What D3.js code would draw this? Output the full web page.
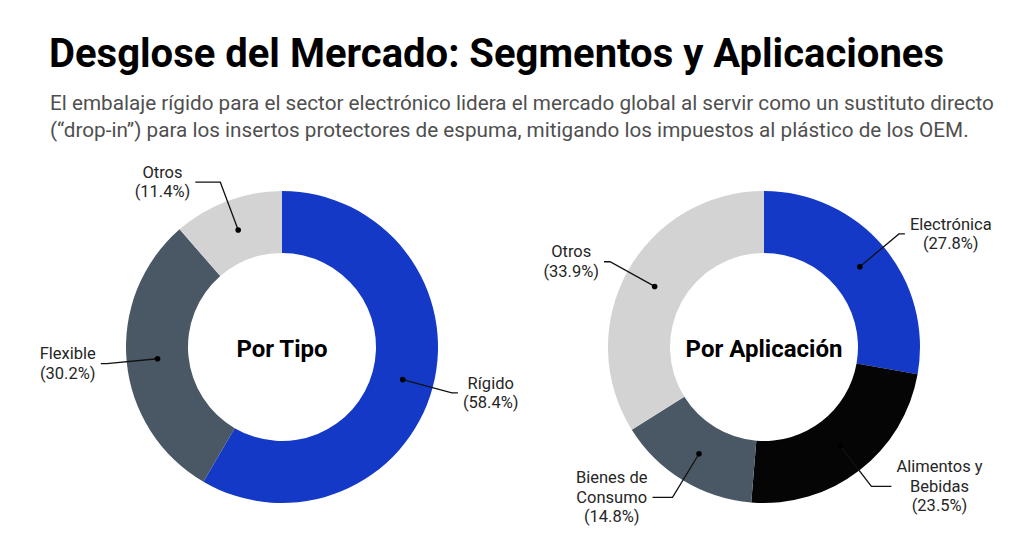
<!DOCTYPE html>
<html lang="es">
    <head>
        <meta charset="utf-8">
        <title>Desglose del Mercado: Segmentos y Aplicaciones</title>
        <script src="https://d3js.org/d3.v7.min.js"></script>
        <style type="text/css">
        body {
            margin: 0;
            background: #ffffff;
        }
        .title {
            font-family: Roboto, sans-serif;
            font-size: 40px;
            font-weight: bold;
            fill: #000000;
        }
        .subtitle {
            font-family: Roboto, sans-serif;
            font-size: 20.7px;
            fill: #4f4f4f;
        }
        .center-label {
            font-family: Roboto, sans-serif;
            font-size: 24px;
            font-weight: bold;
            fill: #000000;
        }
        .slice-label {
            font-family: Roboto, sans-serif;
            font-size: 16.5px;
            fill: #262626;
        }
        </style>
    </head>
    <body>
    <div id="vis"></div>

    <script type="text/javascript">

        const width = 1024;
        const height = 549;

        // Por Tipo
        const typeLabels = [["Rígido"], ["Flexible"], ["Otros"]];
        const typeValues = [58.4, 30.2, 11.4];
        const typeColors = ["#1339c6", "#4a5866", "#d3d3d3"];

        // Por Aplicación
        const appLabels = [["Electrónica"], ["Alimentos y", "Bebidas"], ["Bienes de", "Consumo"], ["Otros"]];
        const appValues = [27.8, 23.5, 14.8, 33.9];
        const appColors = ["#1339c6", "#050505", "#4a5866", "#d3d3d3"];

        const titleText = "Desglose del Mercado: Segmentos y Aplicaciones";
        const subtitleLines = [
            "El embalaje rígido para el sector electrónico lidera el mercado global al servir como un sustituto directo",
            "(“drop-in”) para los insertos protectores de espuma, mitigando los impuestos al plástico de los OEM."
        ];

        const innerR = 94;
        const outerR = 156;

        const svg = d3.select("#vis")
                      .append("svg")
                      .attr("width", width)
                      .attr("height", height);

        svg.append("text")
           .attr("class", "title")
           .attr("x", 49)
           .attr("y", 67)
           .text(titleText);

        svg.selectAll(".subtitle")
           .data(subtitleLines)
           .enter()
           .append("text")
           .attr("class", "subtitle")
           .attr("x", 50)
           .attr("y", (d, i) => 110 + i * 27)
           .text(d => d);

        function donut(cx, cy, labels, values, colors, centerText) {
            const g = svg.append("g")
                         .attr("transform", "translate(" + cx + "," + cy + ")");

            const pie = d3.pie().sort(null).value(d => d);
            const arc = d3.arc().innerRadius(innerR).outerRadius(outerR);
            const arcs = pie(values);

            g.selectAll("path")
             .data(arcs)
             .enter()
             .append("path")
             .attr("d", arc)
             .attr("fill", (d, i) => colors[i]);

            g.append("text")
             .attr("class", "center-label")
             .attr("text-anchor", "middle")
             .attr("dominant-baseline", "central")
             .attr("y", 2)
             .text(centerText);

            // leader lines + labels
            arcs.forEach((d, i) => {
                const mid = (d.startAngle + d.endAngle) / 2;
                const dot = arc.centroid(d);
                const er = outerR + 20;
                const ex = Math.sin(mid) * er;
                const ey = -Math.cos(mid) * er;
                const side = Math.sin(mid) >= 0 ? 1 : -1;
                const c = Math.abs(Math.cos(mid));
                const hlen = c > 0.75 ? (c > 0.9 ? 25 : 20) : 6;
                const lx = ex + side * hlen;

                g.append("polyline")
                 .attr("points", [dot, [ex, ey], [lx, ey]].map(p => p.join(",")).join(" "))
                 .attr("fill", "none")
                 .attr("stroke", "#111")
                 .attr("stroke-width", 1.3);

                g.append("circle")
                 .attr("cx", dot[0])
                 .attr("cy", dot[1])
                 .attr("r", 2.8)
                 .attr("fill", "#000");

                const lines = labels[i].concat(["(" + values[i].toFixed(1) + "%)"]);
                const lh = 19.5;
                const t = g.append("text")
                           .attr("class", "slice-label")
                           .attr("text-anchor", "middle");
                const spans = lines.map((s, k) =>
                    t.append("tspan")
                     .attr("dominant-baseline", "central")
                     .attr("y", ey - (lines.length - 1) * lh / 2 + k * lh)
                     .text(s));
                const maxW = d3.max(spans, s => s.node().getComputedTextLength());
                const tx = lx + side * (5 + maxW / 2);
                spans.forEach(s => s.attr("x", tx));
            });
        }

        donut(282, 347, typeLabels, typeValues, typeColors, "Por Tipo");
        donut(764, 347, appLabels, appValues, appColors, "Por Aplicación");

    </script>
    </body>
</html>
